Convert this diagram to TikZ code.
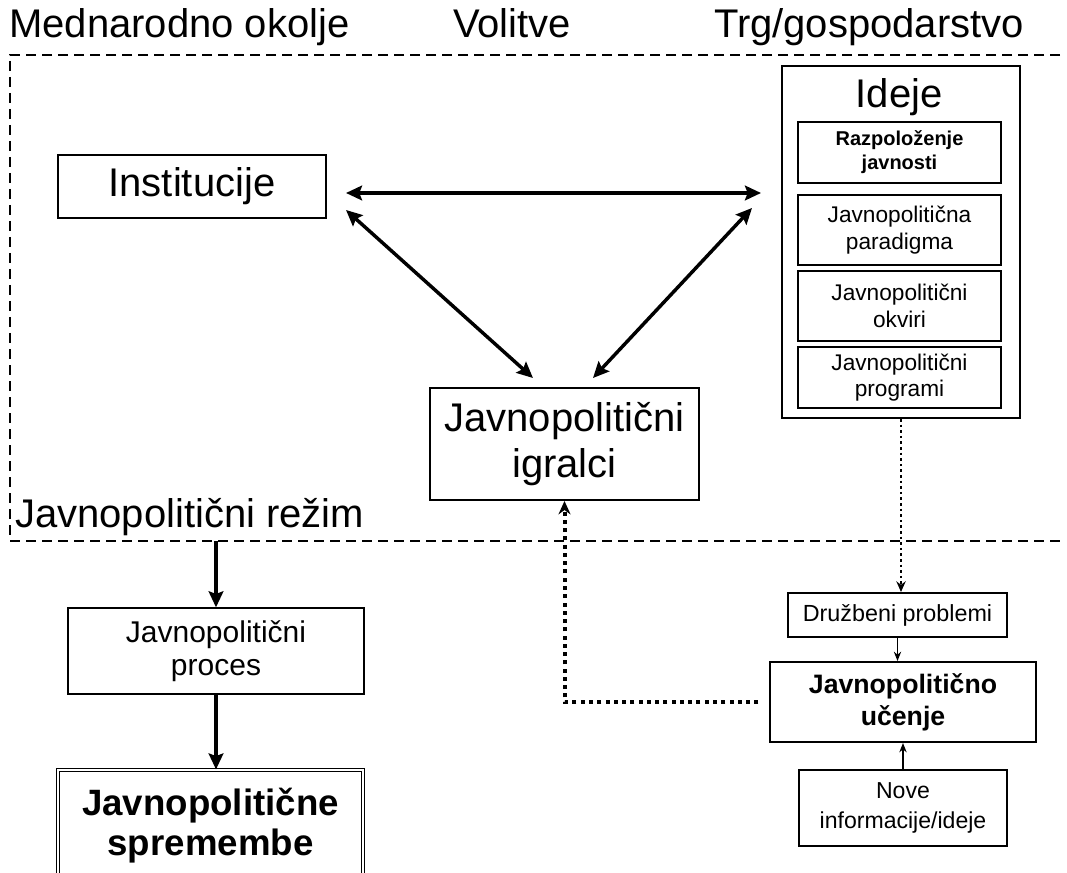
\documentclass[tikz,border=0pt]{standalone}
\usepackage{fontspec}
\setmainfont{Liberation Sans}
\usetikzlibrary{arrows.meta,calc,positioning}

\begin{document}
\begin{tikzpicture}[x=0.75pt,y=-0.75pt,
    box/.style={draw,line width=1.5pt,inner sep=0pt,align=center},
    subbox/.style={draw,line width=1pt,inner sep=0pt,align=center,minimum width=152.25pt},
    link/.style={{Stealth[length=12pt,width=11pt,inset=2pt]}-{Stealth[length=12pt,width=11pt,inset=2pt]},line width=2.6pt},
    flow/.style={-{Stealth[length=12pt,width=11pt,inset=2pt]},line width=2.6pt},
    thin/.style={-{Stealth[length=7pt,width=5.5pt]},line width=1pt},
    frame/.style={line width=1.5pt,dash pattern=on 7.5pt off 4.5pt},
    big/.style={font=\fontsize{30}{34}\selectfont},
    label/.style={big,anchor=base,inner sep=0pt}]
  \useasboundingbox (0,0) rectangle (1067,873);
  % regime frame and its labels
  \node[label,anchor=base west] (intl) at (9,38) {Mednarodno okolje};
  \node[label] (vote) at (512,38) {Volitve};
  \node[label] (market) at (869,38) {Trg/gospodarstvo};
  \node[label,anchor=base west] (regime) at (15,527) {Javnopolitični režim};
  \draw[frame] (1060,55) -- (10,55) -- (10,541) -- (1060,541);
  \coordinate (regline) at (0,541);

  % institutions, ideas, actors
  \node[box,big,minimum width=201pt,minimum height=47.25pt] (instit) at (192,186.5) {Institucije};
  \node[box,minimum width=178.5pt,minimum height=264pt] (ideas) at (901,242) {};
  \node[big] (ideastitle) at (899,97) {Ideje};
  \node[subbox,minimum height=45.75pt,font=\fontsize{15}{18}\selectfont\bfseries] (mood) at (899.5,152.5) {Razpoloženje\\javnosti};
  \node[subbox,minimum height=52.5pt,font=\fontsize{17}{20}\selectfont] (paradigm) at (899.5,230) {Javnopolitična\\paradigma};
  \node[subbox,minimum height=52.5pt,font=\fontsize{17}{20}\selectfont] (frames) at (899.5,306) {Javnopolitični\\okviri};
  \node[subbox,minimum height=45.75pt,font=\fontsize{17}{20}\selectfont] (programs) at (899.5,377.5) {Javnopolitični\\programi};
  \node[box,big,minimum width=201.75pt,minimum height=84pt] (actors) at (564.5,444) {Javnopolitični\\igralci};

  \draw[link] ([shift={(19,6.5)}]instit.east) -- ([shift={(-20,6.5)}]instit.east -| ideas.west);
  \draw[link] ([shift={(19,-9)}]instit.south east) -- ([shift={(-31.5,-9)}]actors.north);
  \draw[link] ([shift={(-29,143)}]ideas.north west) -- ([shift={(28.5,-9)}]actors.north);

  % process and change
  \node[box,line width=1pt,minimum width=222pt,minimum height=64.5pt,font=\fontsize{22.5}{25}\selectfont] (process) at (216,651) {Javnopolitični\\proces};
  \node[box,line width=0.8pt,double,double distance=2pt,minimum width=228.75pt,minimum height=84pt,font=\fontsize{27.5}{30}\selectfont\bfseries] (change) at (210.5,826) {Javnopolitične\\spremembe};
  \draw[flow] (process.north |- regline) -- (process.north);
  \draw[flow] (process.south) -- (process.south |- change.north);

  % learning
  \node[box,minimum width=164.25pt,minimum height=33pt,font=\fontsize{17.5}{20}\selectfont] (social) at (897.5,615) {Družbeni problemi};
  \node[box,minimum width=199.5pt,minimum height=60pt,font=\fontsize{20}{24}\selectfont\bfseries] (learning) at (903,702) {Javnopolitično\\učenje};
  \node[box,minimum width=156pt,minimum height=57pt,font=\fontsize{17.3}{22}\selectfont] (newinfo) at (903,808) {Nove\\informacije/ideje};
  \draw[thin] (social.south) -- (social.south |- learning.north);
  \draw[thin] (newinfo.north) -- (newinfo.north |- learning.south);
  \draw[-{Stealth[length=8pt,width=7pt]},line width=2pt,dash pattern=on 2pt off 2.2pt] (ideas.south) -- (ideas.south |- social.north);
  \draw[-{Stealth[length=10pt,width=9pt]},line width=3pt,dash pattern=on 3pt off 3.2pt] ([xshift=-8pt]learning.west) -- (actors.south |- learning.west) -- (actors.south);
\end{tikzpicture}
\end{document}
